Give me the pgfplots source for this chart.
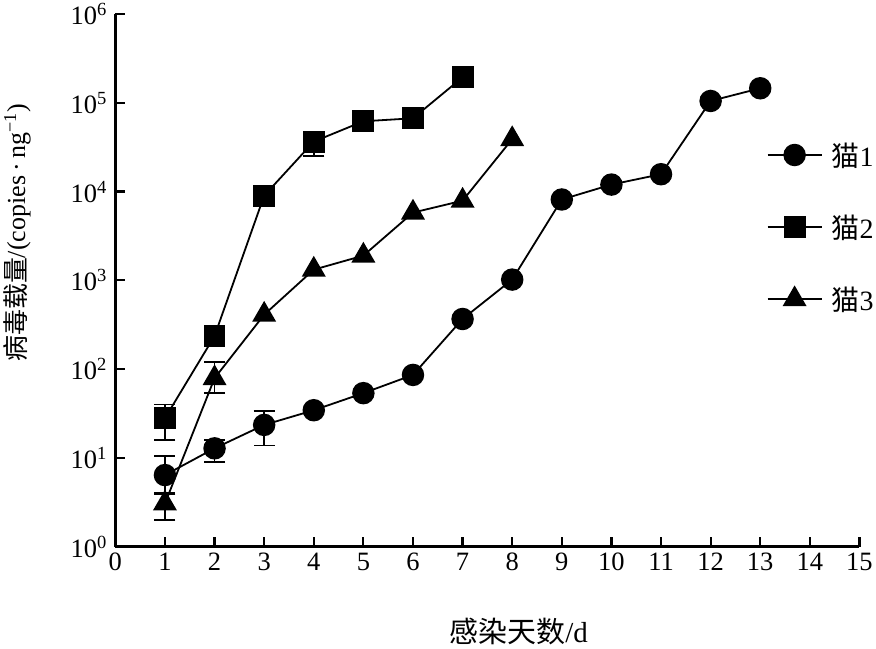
\documentclass[border=0pt]{standalone}
\usepackage{fontspec}
\setmainfont{Liberation Serif}
\newfontfamily\cjk{Noto Sans CJK SC}
\usepackage{pgfplots}
\pgfplotsset{compat=1.18}
\begin{document}
\begin{tikzpicture}
\begin{axis}[
  scale only axis, width=742bp, height=531bp,
  xmin=0, xmax=15, ymode=log, ymin=1, ymax=1e6,
  axis lines=left, axis line style={line width=2.6bp, -},
  xtick={0,...,15},
  ytick={1,10,100,1000,10000,100000,1000000},
  yticklabels={10\textsuperscript{0},10\textsuperscript{1},10\textsuperscript{2},10\textsuperscript{3},10\textsuperscript{4},10\textsuperscript{5},10\textsuperscript{6}},
  yminorticks=false,
  tick align=inside, major tick length=10bp,
  tick style={line width=2.2bp, black},
  /pgf/number format/assume math mode=true,
  tick label style={font=\fontsize{26.5}{30}\selectfont},
  xticklabel style={yshift=-3bp},
  yticklabel style={xshift=-5bp},
  xlabel={{\cjk 感染天数}/d},
  ylabel={{\cjk 病毒载量}/(copies\,·\,ng\textsuperscript{−1})},
  label style={font=\fontsize{26}{30}\selectfont},
  xlabel style={at={(rel axis cs:0.542,0)}, anchor=center, yshift=-85bp, font=\fontsize{29}{32}\selectfont},
  ylabel style={at={(rel axis cs:0,0.589)}, anchor=center, rotate=0, yshift=98bp},
  clip=false,
  legend style={at={(rel axis cs:0.875,0.763)}, anchor=north west, draw=none, fill=none,
    font=\fontsize{28}{32}\selectfont, row sep=43bp, inner sep=0pt},
  legend cell align=left,
  legend image code/.code={\draw[#1, mark repeat=2, mark phase=2] plot coordinates {(0bp,0bp) (27bp,0bp) (54bp,0bp)};},
  every axis plot/.append style={line width=1.8bp, black},
  error bars/error bar style={line width=1.8bp},
  error bars/error mark options={rotate=90, mark size=10.5bp, line width=1.8bp},
]
% error bars (drawn first, behind markers)
\addplot[forget plot, draw=none, mark=none, error bars/.cd, y dir=both, y explicit]
  table[x=x, y=y, y error plus=ep, y error minus=em] {
x y ep em
1 6.4 4.1 2.5
2 12.8 3 3.9
3 23.5 10 9.7
};
\addplot[forget plot, draw=none, mark=none, error bars/.cd, y dir=both, y explicit]
  table[x=x, y=y, y error plus=ep, y error minus=em] {
x y ep em
1 28 12 12
4 36600 8000 11600
};
\addplot[forget plot, draw=none, mark=none, error bars/.cd, y dir=both, y explicit]
  table[x=x, y=y, y error plus=ep, y error minus=em] {
x y ep em
1 3.06 1 1.06
2 79 41 25
};
% series
\addplot[mark=*, mark size=10.3bp] table {
x y
1 6.4
2 12.8
3 23.5
4 34.4
5 53.6
6 86
7 367
8 1020
9 8150
10 12000
11 15700
12 105000
13 146000
};
\addlegendentry{\hspace{7bp}{\cjk 猫}1}
\addplot[mark=square*, mark size=10bp] table {
x y
1 28
2 236
3 9000
4 36600
5 62000
6 67000
7 194000
};
\addlegendentry{\hspace{7bp}{\cjk 猫}2}
\addplot[mark=triangle*, mark size=12bp] table {
x y
1 3.06
2 79
3 410
4 1320
5 1900
6 5800
7 7900
8 39000
};
\addlegendentry{\hspace{7bp}{\cjk 猫}3}
\end{axis}
\end{tikzpicture}
\end{document}
